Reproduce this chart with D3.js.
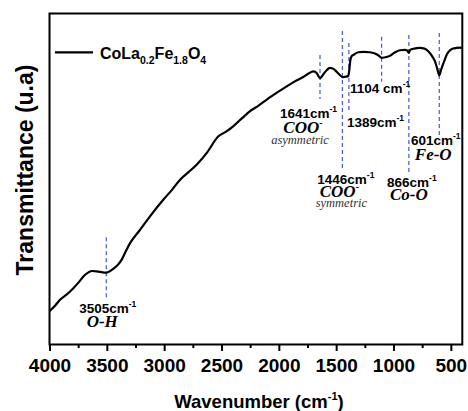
<!DOCTYPE html>
<html>
<head>
<meta charset="utf-8">
<script src="https://cdn.jsdelivr.net/npm/d3@7"></script>
<style>
  body { margin: 0; background: #fff; }
</style>
</head>
<body>
<div id="chart"></div>
<script>
const WIDTH = 468;
const HEIGHT = 411;
const MARGIN = { top: 13.5, left: 49.5, right: 5.7, bottom: 66.5 };

// FTIR spectrum
const wavenumber = [4000, 3950, 3906, 3850, 3790, 3740, 3703, 3660, 3630, 3572, 3505, 3442, 3400, 3369, 3330, 3296,
  3209, 3122, 3006, 2930, 2861, 2790, 2715, 2628, 2527, 2460, 2396, 2320, 2251, 2180, 2105, 2020, 1931, 1860, 1787,
  1740, 1700, 1670, 1641, 1600, 1554, 1520, 1496, 1470, 1446, 1420, 1403, 1395, 1386, 1378, 1365, 1340, 1307, 1260,
  1206, 1148, 1120, 1104, 1080, 1032, 990, 945, 900, 880, 866, 855, 820, 770, 730, 697, 665, 639, 620, 601, 585,
  561, 535, 509, 480, 450, 425, 406];
const transmittance = [10.1, 11.8, 13.6, 15.1, 17.1, 19.0, 20.6, 21.8, 22.2, 22.0, 21.7, 22.9, 24.2, 25.7, 28.5, 30.7,
  34.7, 38.8, 43.8, 46.8, 49.8, 52.0, 54.4, 57.9, 62.9, 64.3, 66.0, 68.4, 70.5, 72.1, 74.0, 76.0, 78.0, 79.5, 80.8,
  81.9, 82.5, 82.0, 80.5, 82.2, 83.6, 83.2, 82.4, 81.5, 80.8, 80.9, 81.0, 81.1, 82.8, 85.5, 87.1, 87.7, 88.3, 88.4,
  88.3, 87.7, 87.0, 86.6, 86.7, 87.2, 88.2, 88.9, 89.0, 88.8, 88.1, 89.0, 89.4, 89.6, 89.4, 88.6, 87.2, 85.6, 83.5,
  81.3, 83.0, 85.3, 87.6, 88.8, 89.4, 89.6, 89.7, 89.6];

const xTicks = [4000, 3500, 3000, 2500, 2000, 1500, 1000, 500];
const xMinorTicks = [3750, 3250, 2750, 2250, 1750, 1250, 750];

// band assignments
const peakWavenumbers = [3505, 1641, 1446, 1389, 1104, 866, 601];
const peakLineTop = [32.4, 87.5, 94.7, 91.1, 93.0, 93.5, 94.1];
const peakLineBottom = [14.0, 74.2, 53.3, 70.2, 79.4, 51.2, 63.2];
const peakValues = ["3505cm", "1641cm", "1446cm", "1389cm", "1104 cm", "866cm", "601cm"];
const peakBonds = ["O-H", "COO", "COO", "", "", "Co-O", "Fe-O"];
const peakModes = ["", "asymmetric", "symmetric", "", "", "", ""];

// label placement relative to each dashed line
const labelLayout = [
  { dx: 1.5, y: 313, anchor: "middle", by: 327, bdx: -4, my: 0, mdx: 0 },
  { dx: -11.5, y: 118, anchor: "middle", by: 133, bdx: -17, my: 143.5, mdx: -20 },
  { dx: 3.5, y: 183.5, anchor: "middle", by: 197, bdx: -3, my: 207, mdx: -1 },
  { dx: -2, y: 127, anchor: "start" },
  { dx: -31.5, y: 92.5, anchor: "start" },
  { dx: 3, y: 187, anchor: "middle", by: 199.5, bdx: 0, my: 0, mdx: 0 },
  { dx: -3.5, y: 145, anchor: "middle", by: 160, bdx: -6, my: 0, mdx: 0 },
];

const svg = d3.select("#chart").append("svg")
  .attr("width", WIDTH)
  .attr("height", HEIGHT)
  .style("background-color", "#fff");

const x = d3.scaleLinear()
  .domain([4000, 400])
  .range([MARGIN.left, WIDTH - MARGIN.right]);

const y = d3.scaleLinear()
  .domain([0, 100])
  .range([HEIGHT - MARGIN.bottom, MARGIN.top]);

const SANS = "'Liberation Sans', Arial, Helvetica, sans-serif";
const SERIF = "'Liberation Serif', 'Times New Roman', serif";
const BLUE = "#4457dd";

// dashed marker lines
svg.append("g")
  .selectAll("line")
  .data(peakWavenumbers)
  .join("line")
    .attr("x1", d => x(d))
    .attr("x2", d => x(d))
    .attr("y1", (d, i) => y(peakLineTop[i]))
    .attr("y2", (d, i) => y(peakLineBottom[i]))
    .attr("stroke", BLUE)
    .attr("stroke-width", 1.2)
    .attr("stroke-dasharray", "4,3");

// spectrum
const line = d3.line()
  .x((d, i) => x(wavenumber[i]))
  .y(d => y(d))
  .curve(d3.curveMonotoneX);

svg.append("path")
  .datum(transmittance)
  .attr("d", line)
  .attr("fill", "none")
  .attr("stroke", "#000")
  .attr("stroke-width", 2.2)
  .attr("stroke-linejoin", "round");

// frame
svg.append("rect")
  .attr("x", MARGIN.left)
  .attr("y", MARGIN.top)
  .attr("width", WIDTH - MARGIN.left - MARGIN.right)
  .attr("height", HEIGHT - MARGIN.top - MARGIN.bottom)
  .attr("fill", "none")
  .attr("stroke", "#000")
  .attr("stroke-width", 2);

// x axis
const xAxisG = svg.append("g")
  .attr("transform", `translate(0, ${HEIGHT - MARGIN.bottom})`)
  .call(d3.axisBottom(x)
    .tickValues(xTicks)
    .tickFormat(d3.format("d"))
    .tickSize(6.5)
    .tickSizeOuter(0)
    .tickPadding(8));
xAxisG.select(".domain").remove();
xAxisG.selectAll(".tick line").attr("stroke-width", 2);
xAxisG.selectAll("text")
  .attr("font-family", SANS)
  .attr("font-weight", "bold")
  .attr("font-size", 19)
  .attr("fill", "#000");

const minorG = svg.append("g")
  .attr("transform", `translate(0, ${HEIGHT - MARGIN.bottom})`)
  .call(d3.axisBottom(x).tickValues(xMinorTicks).tickSize(3.5).tickSizeOuter(0).tickFormat(""));
minorG.select(".domain").remove();
minorG.selectAll(".tick line").attr("stroke-width", 2);

// axis titles
const xTitle = svg.append("text")
  .attr("x", 259)
  .attr("y", 408)
  .attr("text-anchor", "middle")
  .attr("font-family", SANS)
  .attr("font-weight", "bold")
  .attr("font-size", 18.5);
xTitle.append("tspan").text("Wavenumber (cm");
xTitle.append("tspan").attr("font-size", 11).attr("dy", -8).text("-1");
xTitle.append("tspan").attr("dy", 8).text(")");

svg.append("text")
  .attr("transform", "rotate(-90)")
  .attr("x", -170)
  .attr("y", 33)
  .attr("text-anchor", "middle")
  .attr("font-family", SANS)
  .attr("font-weight", "bold")
  .attr("font-size", 23)
  .text("Transmittance (u.a)");

// legend
svg.append("line")
  .attr("x1", 55).attr("x2", 93)
  .attr("y1", 52.3).attr("y2", 52.3)
  .attr("stroke", "#000")
  .attr("stroke-width", 2.2);

const leg = svg.append("text")
  .attr("x", 100)
  .attr("y", 59)
  .attr("font-family", SANS)
  .attr("font-weight", "bold")
  .attr("font-size", 16);
[["CoLa", 0], ["0.2", 1], ["Fe", 0], ["1.8", 1], ["O", 0], ["4", 1]].forEach(([t, sub], i, arr) => {
  const prevSub = i > 0 ? arr[i - 1][1] : 0;
  leg.append("tspan")
    .attr("font-size", sub ? 10.5 : 16)
    .attr("dy", sub === prevSub ? 0 : (sub ? 5 : -5))
    .text(t);
});

// peak annotations
const ann = svg.append("g");
peakWavenumbers.forEach((w, i) => {
  const L = labelLayout[i];
  const lx = x(w);
  const t = ann.append("text")
    .attr("x", lx + L.dx)
    .attr("y", L.y)
    .attr("text-anchor", L.anchor)
    .attr("font-family", SANS)
    .attr("font-weight", "bold")
    .attr("font-size", 13.5);
  t.append("tspan").text(peakValues[i]);
  t.append("tspan").attr("font-size", 8.5).attr("dy", -6).text("-1");

  if (peakBonds[i]) {
    const b = ann.append("text")
      .attr("x", lx + L.bdx)
      .attr("y", L.by)
      .attr("text-anchor", "middle")
      .attr("font-family", SERIF)
      .attr("font-weight", "bold")
      .attr("font-style", "italic")
      .attr("font-size", 17)
      .text(peakBonds[i]);
    if (peakBonds[i] === "COO") {
      b.append("tspan").attr("font-size", 10).attr("dy", -7).text("-");
    }
  }
  if (peakModes[i]) {
    ann.append("text")
      .attr("x", lx + L.mdx)
      .attr("y", L.my)
      .attr("text-anchor", "middle")
      .attr("font-family", SERIF)
      .attr("font-style", "italic")
      .attr("font-size", 12.5)
      .attr("fill", "#333")
      .text(peakModes[i]);
  }
});
</script>
</body>
</html>
